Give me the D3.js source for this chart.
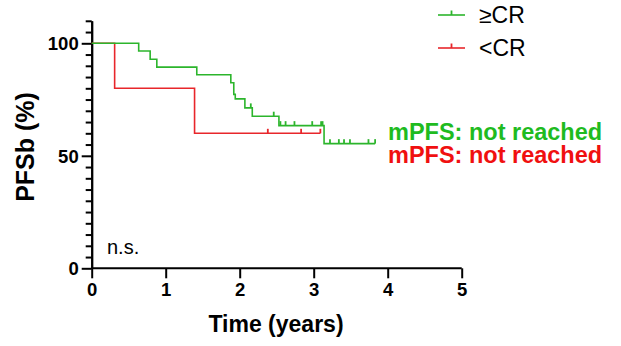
<!DOCTYPE html>
<html>
<head>
<meta charset="utf-8">
<script src="https://cdn.jsdelivr.net/npm/d3@7"></script>
<style>
body { margin: 0; background: #fff; }
text { font-family: Arial, "Liberation Sans", sans-serif; }
</style>
</head>
<body>
<div id="chart"></div>
<script>
// ≥CR 組: 事件時間與存活率
var crTimes = [0, 0.635, 0.79, 0.88, 1.42, 1.88, 1.92, 1.94, 2.07, 2.17, 2.53, 3.14];
var crSurv = [100, 96.6, 92.9, 89.4, 86.0, 82.5, 77.3, 75.3, 71.3, 67.6, 63.4, 55.4];
var crCensor = [2.15, 2.46, 2.55, 2.62, 2.74, 2.98, 3.10, 3.12, 3.22, 3.34, 3.41, 3.49, 3.74, 3.83];

// <CR 組
var ltTimes = [0, 0.31, 1.39];
var ltSurv = [100, 80, 60];
var ltCensor = [2.38, 2.83, 3.09];

var xTicks = [0, 1, 2, 3, 4, 5];
var yTicks = [0, 50, 100];
var groupLabels = ['≥CR', '<CR'];
var medianText = ['mPFS: not reached', 'mPFS: not reached'];

var green = '#2cb52c';
var red = '#e8262b';
var greenText = '#1fbb1f';
var redText = '#f01010';

var W = 621, H = 346;
var margin = { top: 20.8, right: 159.3, bottom: 77.7, left: 91.7 };
var width = W - margin.left - margin.right;
var height = H - margin.top - margin.bottom;

var svg = d3.select('#chart').append('svg')
    .attr('width', W)
    .attr('height', H)
    .append('g')
    .attr('transform', 'translate(' + margin.left + ',' + margin.top + ')');

var x = d3.scaleLinear().domain([0, 5]).range([0, width]);
var y = d3.scaleLinear().domain([0, 110]).range([height, 0]);

// x 軸
var xAxis = svg.append('g')
    .attr('transform', 'translate(0,' + height + ')')
    .call(d3.axisBottom(x).tickValues(xTicks).tickFormat(d3.format('d')).tickSize(10).tickPadding(5));

// y 軸: 主刻度 + 每 5% 小刻度
var yMinor = d3.range(0, 111, 5).filter(function(v) { return yTicks.indexOf(v) < 0; });
svg.append('g')
    .call(d3.axisLeft(y).tickValues(yMinor).tickFormat('').tickSize(6).tickSizeOuter(0));
var yAxis = svg.append('g')
    .call(d3.axisLeft(y).tickValues(yTicks).tickSize(10).tickPadding(3).tickSizeOuter(0));

svg.selectAll('.domain, .tick line')
    .attr('stroke', '#000')
    .attr('stroke-width', 2);
xAxis.select('.domain').attr('d', 'M0,0H' + width);
xAxis.selectAll('text').attr('font-size', 18.5).attr('font-weight', 'bold').attr('fill', '#000');
yAxis.selectAll('text').attr('font-size', 18.5).attr('font-weight', 'bold').attr('fill', '#000').attr('dy', '0.36em');

// 軸標題
svg.append('text')
    .attr('x', 276 - margin.left)
    .attr('y', height + 63.5)
    .attr('text-anchor', 'middle')
    .attr('font-size', 23)
    .attr('font-weight', 'bold')
    .text('Time (years)');

svg.append('text')
    .attr('transform', 'translate(' + (34 - margin.left) + ',' + (147 - margin.top) + ') rotate(-90)')
    .attr('text-anchor', 'middle')
    .attr('font-size', 25)
    .attr('font-weight', 'bold')
    .text('PFSb (%)');

// 階梯曲線
function survAt(times, surv, t) {
    var s = surv[0];
    for (var i = 0; i < times.length; i++) {
        if (times[i] <= t) s = surv[i];
    }
    return s;
}

function drawKM(times, surv, censor, color) {
    var pts = times.map(function(t, i) { return [t, surv[i]]; });
    var tEnd = d3.max(censor);
    pts.push([tEnd, survAt(times, surv, tEnd)]);

    var line = d3.line()
        .x(function(d) { return x(d[0]); })
        .y(function(d) { return y(d[1]); })
        .curve(d3.curveStepAfter);

    svg.append('path')
        .attr('d', line(pts))
        .attr('fill', 'none')
        .attr('stroke', color)
        .attr('stroke-width', 1.6);

    // 設限記號
    svg.selectAll(null)
        .data(censor)
        .enter().append('line')
        .attr('x1', function(d) { return x(d); })
        .attr('x2', function(d) { return x(d); })
        .attr('y1', function(d) { return y(survAt(times, surv, d)); })
        .attr('y2', function(d) { return y(survAt(times, surv, d)) - 4.5; })
        .attr('stroke', color)
        .attr('stroke-width', 1.8);
}

// 先畫紅線, 綠線蓋在上面
drawKM(ltTimes, ltSurv, ltCensor, red);
drawKM(crTimes, crSurv, crCensor, green);

// 圖例
function drawLegend(label, cy, color) {
    var lx = 438 - margin.left;
    var ly = cy - margin.top;
    svg.append('line')
        .attr('x1', lx).attr('x2', lx + 27)
        .attr('y1', ly).attr('y2', ly)
        .attr('stroke', color).attr('stroke-width', 1.6);
    svg.append('line')
        .attr('x1', lx + 13.5).attr('x2', lx + 13.5)
        .attr('y1', ly).attr('y2', ly - 4.5)
        .attr('stroke', color).attr('stroke-width', 1.8);
    svg.append('text')
        .attr('x', 479 - margin.left)
        .attr('y', ly + 8)
        .attr('font-size', 23)
        .text(label);
}
drawLegend(groupLabels[0], 15, green);
drawLegend(groupLabels[1], 48, red);

// 中位數文字
svg.append('text')
    .attr('x', 388 - margin.left)
    .attr('y', 140 - margin.top)
    .attr('font-size', 23.5)
    .attr('font-weight', 'bold')
    .attr('fill', greenText)
    .text(medianText[0]);
svg.append('text')
    .attr('x', 388 - margin.left)
    .attr('y', 163 - margin.top)
    .attr('font-size', 23.5)
    .attr('font-weight', 'bold')
    .attr('fill', redText)
    .text(medianText[1]);

svg.append('text')
    .attr('x', 107 - margin.left)
    .attr('y', 254 - margin.top)
    .attr('font-size', 20)
    .text('n.s.');
</script>
</body>
</html>
